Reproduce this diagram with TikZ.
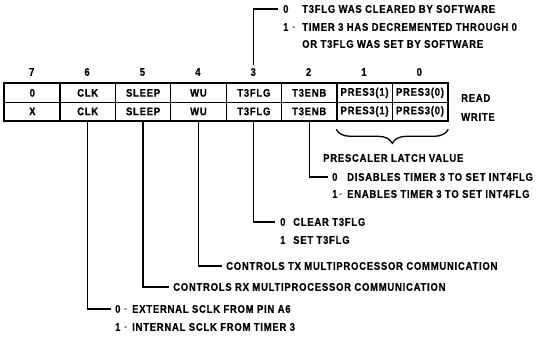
\documentclass[tikz,border=0pt]{standalone}
\usepackage{fontspec}
\setmainfont{Liberation Sans}[FakeStretch=0.86,LetterSpace=7,BoldFeatures={FakeBold=0.6}]
\usetikzlibrary{decorations.pathreplacing}
\newcommand\numcol[2]{\makebox[#1][l]{#2}}
\newcommand\thindash[1]{\makebox[#1][l]{\mdseries -}}
\begin{document}
\begin{tikzpicture}[x=1pt,y=-1pt,
  font=\bfseries\fontsize{11}{13}\selectfont,
  cell/.style={draw, line width=1.3pt, minimum width=55.375pt, minimum height=18.5pt, inner sep=0pt, anchor=north west},
  lbl/.style={anchor=west, inner sep=0pt},
  conn/.style={line width=1.3pt}]
\useasboundingbox (0,0) rectangle (545,337);
% register cells
\foreach \b/\t/\u [count=\i from 0] in {7/0/X, 6/CLK/CLK, 5/SLEEP/SLEEP, 4/WU/WU, 3/T3FLG/T3FLG, 2/T3ENB/T3ENB, 1/PRES3(1)/PRES3(1), 0/PRES3(0)/PRES3(0)}{
  \node[cell] (r\b) at (4+55.375*\i,83) {\t};
  \node[cell] (w\b) at (4+55.375*\i,101.5) {\u};
  \node[inner sep=0pt] (b\b) at (4+55.375*\i+27.69,72) {\b};
}
\draw[line width=2.2pt] (r7.north west) rectangle (w0.south east);
\node[lbl] (rd) at (461,98) {READ};
\node[lbl] (wr) at (461,117) {WRITE};
% prescaler brace
\draw[conn, decorate, decoration={brace, mirror, amplitude=14pt}] ([yshift=-8pt]w1.south west) -- ([yshift=-8pt]w0.south east);
\node[lbl] (pl) at (323,158) {PRESCALER LATCH VALUE};
% bit 3 top
\node[lbl] (l3a) at (283,9) {\numcol{19pt}{0}T3FLG WAS CLEARED BY SOFTWARE};
\node[lbl] (l3b) at (283,27) {\numcol{9pt}{1}\thindash{10pt}TIMER 3 HAS DECREMENTED THROUGH 0};
\node[lbl] (l3c) at (302,44) {OR T3FLG WAS SET BY SOFTWARE};
\draw[conn] ([yshift=3pt]b3.north) |- ([xshift=-5pt]l3a.west);
% bit 2
\node[lbl] (l2a) at (332,177) {\numcol{15pt}{0}DISABLES TIMER 3 TO SET INT4FLG};
\node[lbl] (l2b) at (332,194) {\numcol{7pt}{1}\thindash{8pt}ENABLES TIMER 3 TO SET INT4FLG};
\draw[conn] (w2.south) |- ([xshift=-4pt]l2a.west);
% bit 3 bottom
\node[lbl] (l3d) at (280,222) {\numcol{13pt}{0}CLEAR T3FLG};
\node[lbl] (l3e) at (280,240) {\numcol{13pt}{1}SET T3FLG};
\draw[conn] (w3.south) |- ([xshift=-5pt]l3d.west);
% bit 4
\node[lbl] (l4) at (226,266) {CONTROLS TX MULTIPROCESSOR COMMUNICATION};
\draw[conn] (w4.south) |- ([xshift=-4pt]l4.west);
% bit 5
\node[lbl] (l5) at (173,287) {CONTROLS RX MULTIPROCESSOR COMMUNICATION};
\draw[conn] (w5.south) |- ([xshift=-4pt]l5.west);
% bit 6
\node[lbl] (l6a) at (115,309) {\numcol{9pt}{0}\thindash{8pt}EXTERNAL SCLK FROM PIN A6};
\node[lbl] (l6b) at (115,327) {\numcol{9pt}{1}\thindash{8pt}INTERNAL SCLK FROM TIMER 3};
\draw[conn] (w6.south) |- ([xshift=-4pt]l6a.west);
\end{tikzpicture}
\end{document}
